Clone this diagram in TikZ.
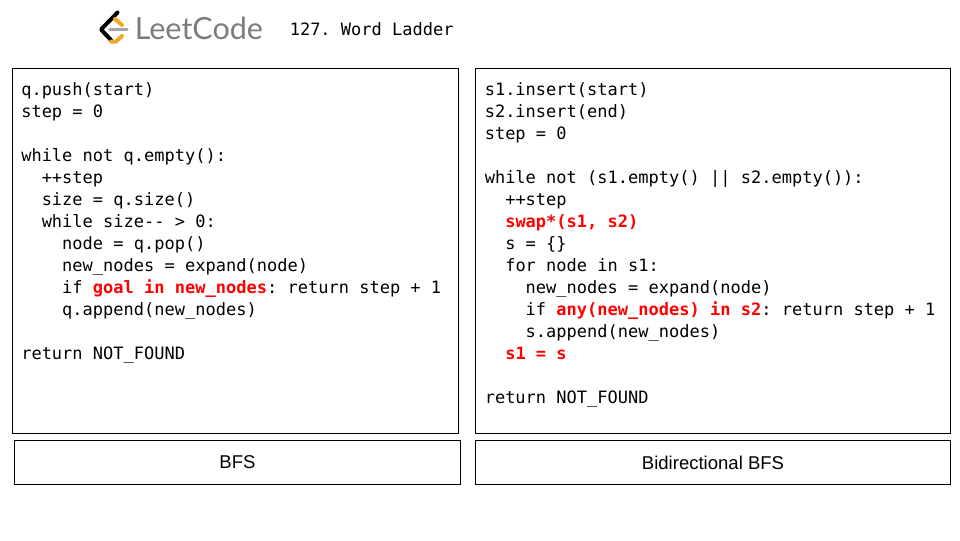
\documentclass[tikz,border=0pt]{standalone}
\usepackage{fontspec}
\setmainfont{Liberation Sans}
\setmonofont{DejaVu Sans Mono}
\newfontfamily\logofont{Lato}
\definecolor{logogray}{HTML}{7C7C7C}
\definecolor{logoorange}{HTML}{F5A623}
\definecolor{codered}{HTML}{FF0000}
\newcommand{\hl}[1]{\textcolor{codered}{\bfseries #1}}
\newcommand{\ind}[1]{\phantom{#1}}
\tikzset{
  x=0.75pt, y=-0.75pt,
  panel/.style={draw=black, line width=0.75pt, rectangle, inner sep=0pt, anchor=north west},
  codeblock/.style={anchor=base west, inner sep=0pt, align=left, font=\ttfamily\fontsize{12.76}{16.5}\selectfont},
  caption/.style={font=\fontsize{13.9}{16}\selectfont, inner sep=0pt},
}
\begin{document}
\begin{tikzpicture}
\useasboundingbox (0,0) rectangle (960,540);
% logo
\draw[black, line width=3pt, line cap=round, line join=round] (117.5,12.5) -- (101,29.5) -- (111,40);
\draw[logoorange, line width=3pt, line cap=round, line join=round] (111,41.5) -- (116,41.5) -- (122,36);
\draw[logoorange, line width=3pt, line cap=round, line join=round] (115,19) -- (122,25);
\draw[logogray!70, line width=2.6pt, line cap=round] (110,29.5) -- (127,29.5);
\node[anchor=base west, inner sep=0pt, text=logogray, font=\logofont\fontsize{22.9}{24}\selectfont] (logo) at (134.5,39.5) {LeetCode};
\node[anchor=base west, inner sep=0pt, font=\ttfamily\fontsize{12.76}{16}\selectfont] (title) at (289.5,35) {127. Word Ladder};
% panels
\node[panel, minimum width=334.5pt, minimum height=273.75pt] (bfspanel) at (12,68) {};
\node[panel, minimum width=356.25pt, minimum height=273.75pt] (bibfspanel) at (475,68) {};
\node[panel, minimum width=334.5pt, minimum height=33pt] (bfscap) at (14,440) {};
\node[panel, minimum width=356.25pt, minimum height=33pt] (bibfscap) at (475,440) {};
\node[caption] (bfstext) at (bfscap.center) {BFS};
\node[caption] (bibfstext) at (bibfscap.center) {Bidirectional BFS};
% code
\node[codeblock, anchor=north west] (bfscode) at (21,82) {%
q.push(start)\\
step = 0\\
\ \\
while not q.empty():\\
\ind{xx}++step\\
\ind{xx}size = q.size()\\
\ind{xx}while size-- > 0:\\
\ind{xxxx}node = q.pop()\\
\ind{xxxx}new\_nodes = expand(node)\\
\ind{xxxx}if \hl{goal in new\_nodes}: return step + 1\\
\ind{xxxx}q.append(new\_nodes)\\
\ \\
return NOT\_FOUND};
\node[codeblock, anchor=north west] (bibfscode) at (484.5,82) {%
s1.insert(start)\\
s2.insert(end)\\
step = 0\\
\ \\
while not (s1.empty() || s2.empty()):\\
\ind{xx}++step\\
\ind{xx}\hl{swap*(s1, s2)}\\
\ind{xx}s = \{\}\\
\ind{xx}for node in s1:\\
\ind{xxxx}new\_nodes = expand(node)\\
\ind{xxxx}if \hl{any(new\_nodes) in s2}: return step + 1\\
\ind{xxxx}s.append(new\_nodes)\\
\ind{xx}\hl{s1 = s}\\
\ \\
return NOT\_FOUND};
\end{tikzpicture}
\end{document}
